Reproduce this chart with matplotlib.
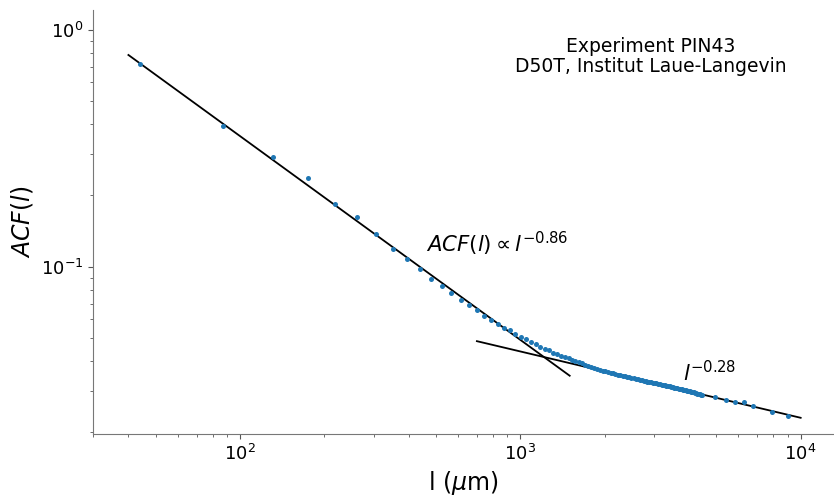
import numpy as np
import matplotlib
matplotlib.use("Agg")
import matplotlib.pyplot as plt

# Lag distances (micrometres) and autocorrelation values
lags = [
    44, 87, 131, 175, 219, 262, 306, 350, 393, 437,
    481, 524, 568, 612, 656, 699, 743, 787, 830, 874,
    918, 961, 1005, 1049, 1093, 1136, 1180, 1224, 1267, 1311,
    1355, 1398, 1442, 1486, 1530, 1573, 1617, 1661, 1704, 1748,
    1792, 1835, 1879, 1923, 1967, 2010, 2054, 2098, 2141, 2185,
    2229, 2272, 2316, 2360, 2404, 2447, 2491, 2535, 2578, 2622,
    2666, 2709, 2753, 2797, 2841, 2884, 2928, 2972, 3015, 3059,
    3103, 3146, 3190, 3234, 3278, 3321, 3365, 3409, 3452, 3496,
    3540, 3583, 3627, 3671, 3715, 3758, 3802, 3846, 3889, 3933,
    3977, 4020, 4064, 4108, 4152, 4195, 4239, 4283, 4326, 4370,
    4414, 4457,
    4940, 5400, 5850, 6300, 6750, 7900, 9000,
]
acf = [
    0.717, 0.392, 0.291, 0.236, 0.184, 0.1615, 0.1375, 0.119, 0.1084, 0.0978,
    0.0887, 0.0829, 0.0774, 0.0721, 0.0687, 0.0657, 0.0619, 0.0599, 0.0576, 0.0553,
    0.0539, 0.0520, 0.0505, 0.0494, 0.0483, 0.0472, 0.0459, 0.0451, 0.0444, 0.0432,
    0.0429, 0.0422, 0.0417, 0.0411, 0.0406, 0.0401, 0.0396, 0.0391, 0.0387, 0.0383,
    0.0379, 0.0375, 0.0372, 0.0367, 0.0364, 0.0362, 0.0360, 0.0357, 0.0355, 0.0353,
    0.0351, 0.0350, 0.0347, 0.0346, 0.0344, 0.0342, 0.0341, 0.0339, 0.0337, 0.0336,
    0.0334, 0.0332, 0.0331, 0.0330, 0.0328, 0.0327, 0.0326, 0.0324, 0.0323, 0.0322,
    0.0320, 0.0319, 0.0318, 0.0317, 0.0316, 0.0315, 0.0314, 0.0313, 0.0311, 0.0310,
    0.0309, 0.0308, 0.0307, 0.0306, 0.0305, 0.0304, 0.0303, 0.0302, 0.0301, 0.0300,
    0.0299, 0.0298, 0.0297, 0.0296, 0.0295, 0.0294, 0.0293, 0.0292, 0.0291, 0.0290,
    0.0289, 0.0288,
    0.0282, 0.0274, 0.0269, 0.0268, 0.0259, 0.0244, 0.0234,
]

# Power-law fits: amplitude, exponent, fitted range
amp_short, exp_short, range_short = 18.7, 0.86, [40, 1500]
amp_long, exp_long, range_long = 0.304, 0.28, [700, 1e4]

fig = plt.figure(figsize=(8.34, 4.96), dpi=100)
ax = fig.add_axes([0.1115, 0.125, 0.8885, 0.855])

ax.scatter(lags, acf, s=13, color="#1f77b4", zorder=3, linewidths=0)

l1 = np.array(range_short)
l2 = np.array(range_long)
ax.plot(l1, amp_short * l1 ** -exp_short, color="black", lw=1.3)
ax.plot(l2, amp_long * l2 ** -exp_long, color="black", lw=1.3)

ax.set_xscale("log")
ax.set_yscale("log")
ax.set_xlim(29.9, 13150)
ax.set_ylim(0.0197, 1.214)

ax.text(460, 0.1157, r"$ACF(l) \propto l^{-0.86}$", fontsize=15.3, va="baseline")
ax.text(3800, 0.0330, r"$l^{-0.28}$", fontsize=15.3, va="baseline")
ax.text(0.753, 0.935, "Experiment PIN43\nD50T, Institut Laue-Langevin",
        transform=ax.transAxes, ha="center", va="top", fontsize=13.5,
        linespacing=1.05)

ax.set_xlabel(r"l ($\mu$m)", fontsize=17)
ax.set_ylabel(r"$ACF(l)$", fontsize=17)

for side in ("top", "right"):
    ax.spines[side].set_visible(False)
for side in ("left", "bottom"):
    ax.spines[side].set_color("#777777")
ax.tick_params(which="both", colors="#555555", labelcolor="black")
ax.tick_params(which="major", labelsize=13)

fig.savefig("out.png", dpi=100)
